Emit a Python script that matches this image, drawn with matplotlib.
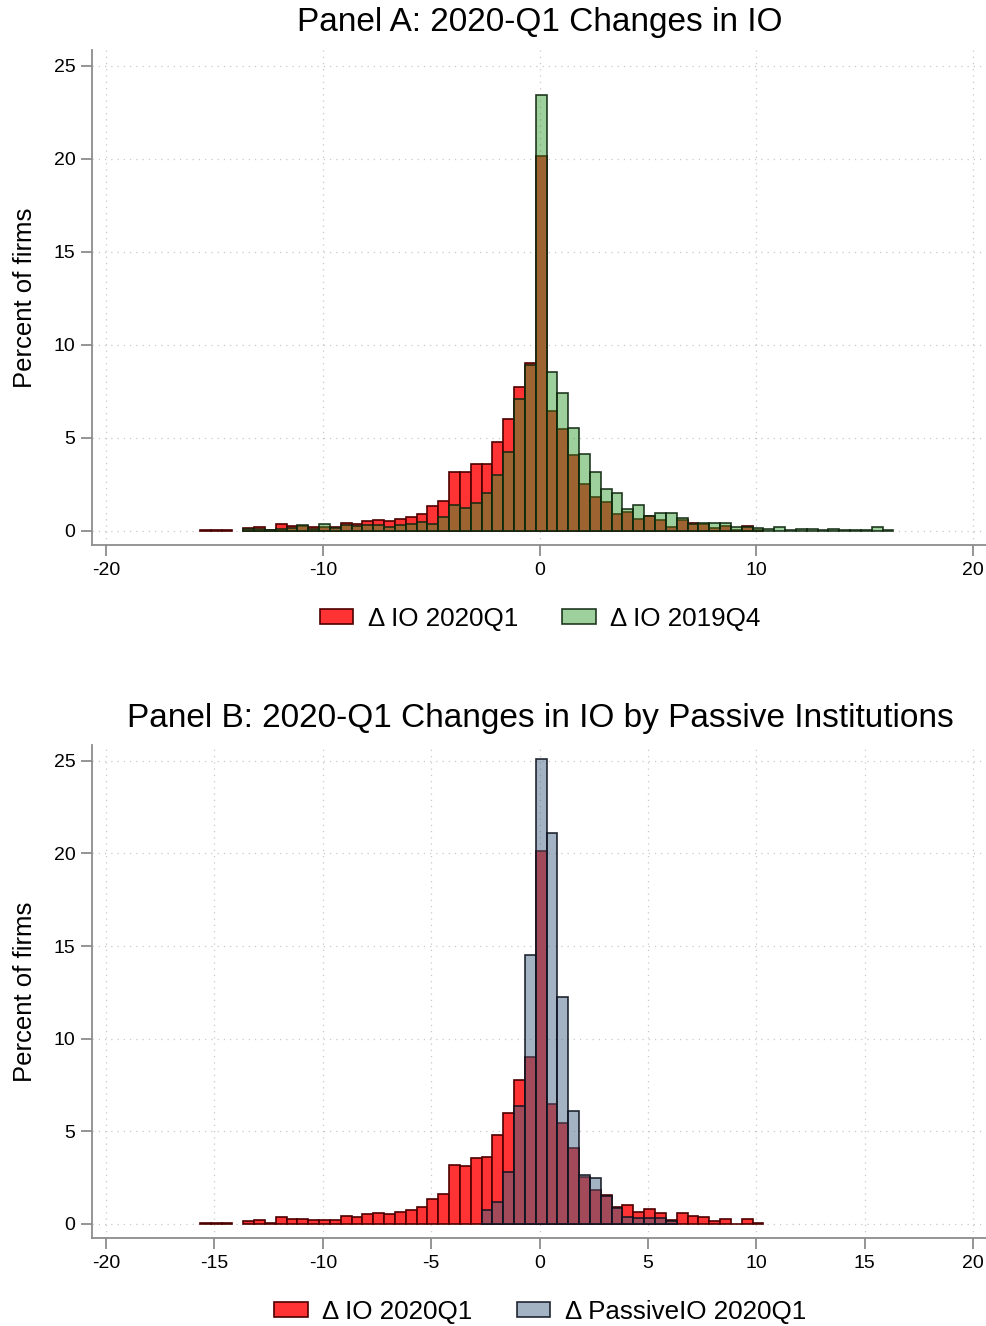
import numpy as np
import matplotlib
matplotlib.use("Agg")
import matplotlib.pyplot as plt
from matplotlib.patches import Patch

plt.rcParams["font.family"] = ["Liberation Sans", "DejaVu Sans"]

# histogram bins: width 0.5 starting at the sample minimum
BIN_START = -15.67
BIN_WIDTH = 0.5
N_BINS = 64

# percent of firms per bin
io_2020q1 = [
    0.05, 0.03, 0.03, 0.0, 0.17, 0.23, 0.05, 0.39, 0.27, 0.28,
    0.23, 0.21, 0.20, 0.44, 0.38, 0.51, 0.61, 0.55, 0.63, 0.73,
    0.89, 1.32, 1.63, 3.18, 3.15, 3.58, 3.61, 4.80, 6.00, 7.76,
    9.00, 20.13, 6.45, 5.45, 4.10, 2.52, 1.82, 1.55, 0.89, 1.00,
    0.65, 0.78, 0.58, 0.20, 0.57, 0.44, 0.38, 0.15, 0.25, 0.02,
    0.25, 0.05, 0.0, 0.0, 0.0, 0.0, 0.0, 0.0, 0.0, 0.0,
    0.0, 0.0, 0.0, 0.0,
]
io_2019q4 = [
    0.0, 0.0, 0.0, 0.0, 0.10, 0.10, 0.03, 0.10, 0.15, 0.30,
    0.10, 0.37, 0.15, 0.30, 0.25, 0.30, 0.30, 0.20, 0.29, 0.36,
    0.45, 0.36, 0.75, 1.41, 1.23, 1.50, 2.06, 3.02, 4.24, 7.07,
    8.89, 23.44, 8.55, 7.40, 5.53, 4.15, 3.17, 2.23, 2.04, 1.16,
    1.38, 0.82, 0.95, 0.95, 0.71, 0.38, 0.43, 0.43, 0.43, 0.20,
    0.22, 0.18, 0.10, 0.23, 0.05, 0.10, 0.10, 0.05, 0.10, 0.05,
    0.05, 0.05, 0.20, 0.05,
]
passive_2020q1 = [
    0.0, 0.0, 0.0, 0.0, 0.0, 0.0, 0.0, 0.0, 0.0, 0.0,
    0.0, 0.0, 0.0, 0.0, 0.0, 0.0, 0.0, 0.0, 0.0, 0.0,
    0.0, 0.0, 0.0, 0.0, 0.0, 0.0, 0.74, 1.19, 2.81, 6.37,
    14.49, 25.09, 21.08, 12.27, 6.08, 2.63, 2.50, 1.52, 0.85, 0.40,
    0.31, 0.31, 0.31, 0.15, 0.0, 0.0, 0.0, 0.0, 0.0, 0.0,
    0.0, 0.0, 0.0, 0.0, 0.0, 0.0, 0.0, 0.0, 0.0, 0.0,
    0.0, 0.0, 0.0, 0.0,
]

titles = [
    "Panel A: 2020-Q1 Changes in IO",
    "Panel B: 2020-Q1 Changes in IO by Passive Institutions",
]
legend_labels = [
    ["\u0394 IO 2020Q1", "\u0394 IO 2019Q4"],
    ["\u0394 IO 2020Q1", "\u0394 PassiveIO 2020Q1"],
]
x_ticks = [
    [-20, -10, 0, 10, 20],
    [-20, -15, -10, -5, 0, 5, 10, 15, 20],
]
y_ticks = [0, 5, 10, 15, 20, 25]

RED = (1.0, 0.2, 0.2)
RED_EDGE = (0.3, 0.0, 0.0)
GREEN = (47 / 255, 155 / 255, 47 / 255, 0.47)
GREEN_EDGE = (0.05, 0.15, 0.05, 0.9)
NAVY = (67 / 255, 100 / 255, 133 / 255, 0.485)
NAVY_EDGE = (0.05, 0.07, 0.12, 0.9)


def draw_hist(ax, values, face, edge):
    values = np.asarray(values)
    lefts = BIN_START + BIN_WIDTH * np.arange(N_BINS)
    keep = values > 0
    ax.bar(lefts[keep], values[keep], width=BIN_WIDTH, align="edge",
           color=face, edgecolor=edge, linewidth=1.2, zorder=3)


def style_axes(ax, xt):
    ax.set_xlim(-20.65, 20.65)
    ax.set_ylim(-0.76, 25.85)
    ax.set_xticks(xt)
    ax.set_xticklabels([str(t) for t in xt])
    ax.set_yticks(y_ticks)
    ax.set_yticklabels([str(t) for t in y_ticks])
    ax.grid(True, linestyle=(0, (1, 4)), color="#c8c8c8", linewidth=0.9, zorder=0)
    ax.set_axisbelow(True)
    for side in ["top", "right"]:
        ax.spines[side].set_visible(False)
    for side in ["left", "bottom"]:
        ax.spines[side].set_color("#8c8c8c")
        ax.spines[side].set_linewidth(1.3)
    ax.tick_params(axis="both", direction="out", length=8, width=1.3,
                   color="#8c8c8c", labelsize=14, pad=4)
    ax.set_ylabel("Percent of firms", fontsize=18.5, labelpad=12)


fig = plt.figure(figsize=(9.87, 13.26), dpi=100)
W, H = 987.0, 1326.0
ax_a = fig.add_axes([92 / W, 1 - 545 / H, (987 - 92) / W, (545 - 50) / H])
ax_b = fig.add_axes([92 / W, 1 - 1238 / H, (987 - 92) / W, (1238 - 745) / H])

draw_hist(ax_a, io_2020q1, RED, RED_EDGE)
draw_hist(ax_a, io_2019q4, GREEN, GREEN_EDGE)
draw_hist(ax_b, io_2020q1, RED, RED_EDGE)
draw_hist(ax_b, passive_2020q1, NAVY, NAVY_EDGE)

style_axes(ax_a, x_ticks[0])
style_axes(ax_b, x_ticks[1])

fig.text(540 / W, 1 - 22 / H, titles[0], ha="center", va="center", fontsize=24)
fig.text(540 / W, 1 - 718 / H, titles[1], ha="center", va="center", fontsize=24)

for ax, labels, second, second_edge, ly in [
    (ax_a, legend_labels[0], GREEN, GREEN_EDGE, 619),
    (ax_b, legend_labels[1], NAVY, NAVY_EDGE, 1312),
]:
    handles = [
        Patch(facecolor=RED, edgecolor=RED_EDGE, linewidth=1.2, label=labels[0]),
        Patch(facecolor=second, edgecolor=second_edge, linewidth=1.2, label=labels[1]),
    ]
    fig.legend(handles=handles, loc="center", bbox_to_anchor=(540 / W, 1 - ly / H),
               ncol=2, frameon=False, fontsize=18.7, handlelength=1.3,
               handleheight=0.5, handletextpad=0.55, columnspacing=1.7)

fig.savefig("out.png", dpi=100)
